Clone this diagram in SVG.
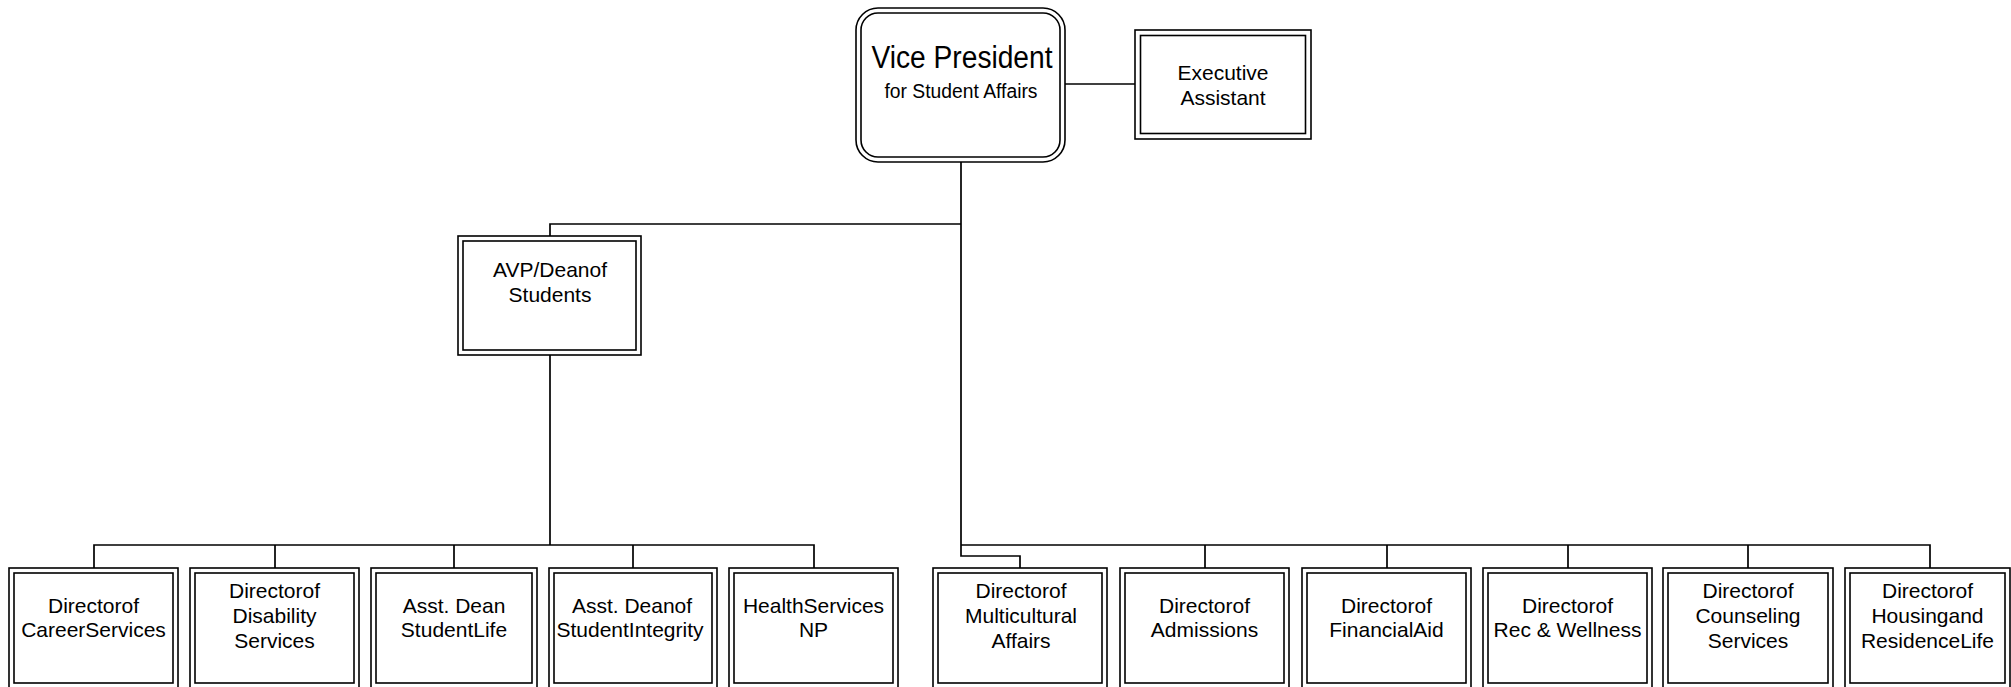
<svg xmlns="http://www.w3.org/2000/svg" width="2011" height="687" viewBox="0 0 2011 687">
<style>
.o{fill:#fff;stroke:#000;stroke-width:1.6}
.i{fill:none;stroke:#000;stroke-width:1.6}
.t{font-family:"Liberation Sans",Arial,sans-serif;font-size:21px;fill:#000;text-anchor:middle}
.c{fill:none;stroke:#000;stroke-width:1.7}
</style>
<rect width="2011" height="687" fill="#fff"/>
<g id="connectors">
<path class="c" d="M1065 84H1135"/>
<path class="c" d="M961 162V556H1020V568"/>
<path class="c" d="M961 224H550V236"/>
<path class="c" d="M550 355V545"/>
<path class="c" d="M94 568V545H814V568M275 545V568M454 545V568M633 545V568"/>
<path class="c" d="M961 545H1930V568M1205 545V568M1387 545V568M1568 545V568M1748 545V568"/>
</g>
<g id="vp">
<rect class="o" x="856" y="8" width="209" height="154" rx="22"/>
<rect class="i" x="861" y="13" width="199" height="144" rx="17"/>
<text class="t" x="962" y="68" style="font-size:31px" textLength="181" lengthAdjust="spacingAndGlyphs">Vice President</text>
<text class="t" x="961" y="98" style="font-size:20px" textLength="153" lengthAdjust="spacingAndGlyphs">for Student Affairs</text>
</g>
<g id="ea">
<rect class="o" x="1135" y="30" width="176" height="109"/>
<rect class="i" x="1140.5" y="35.5" width="165" height="98"/>
<text class="t" x="1223" y="80">Executive</text>
<text class="t" x="1223" y="105">Assistant</text>
</g>
<g id="avp">
<rect class="o" x="458" y="236" width="183" height="119"/>
<rect class="i" x="463" y="241" width="173" height="109"/>
<text class="t" x="550" y="277">AVP/Deanof</text>
<text class="t" x="550" y="302">Students</text>
</g>
<g id="career">
<rect class="o" x="9" y="568" width="169" height="120"/>
<rect class="i" x="14" y="573" width="159" height="110"/>
<text class="t" x="93.5" y="613">Directorof</text>
<text class="t" x="93.5" y="637">CareerServices</text>
</g>
<g id="disability">
<rect class="o" x="190" y="568" width="169" height="120"/>
<rect class="i" x="195" y="573" width="159" height="110"/>
<text class="t" x="274.5" y="598">Directorof</text>
<text class="t" x="274.5" y="623">Disability</text>
<text class="t" x="274.5" y="648">Services</text>
</g>
<g id="studentlife">
<rect class="o" x="371" y="568" width="166" height="120"/>
<rect class="i" x="376" y="573" width="156" height="110"/>
<text class="t" x="454" y="613">Asst. Dean</text>
<text class="t" x="454" y="637">StudentLife</text>
</g>
<g id="integrity">
<rect class="o" x="549" y="568" width="168" height="120"/>
<rect class="i" x="554" y="573" width="158" height="110"/>
<text class="t" x="632" y="613">Asst. Deanof</text>
<text class="t" x="630" y="637">StudentIntegrity</text>
</g>
<g id="health">
<rect class="o" x="729" y="568" width="169" height="120"/>
<rect class="i" x="734" y="573" width="159" height="110"/>
<text class="t" x="813.5" y="613">HealthServices</text>
<text class="t" x="813.5" y="637">NP</text>
</g>
<g id="multicultural">
<rect class="o" x="933" y="568" width="174" height="120"/>
<rect class="i" x="938" y="573" width="164" height="110"/>
<text class="t" x="1021" y="598">Directorof</text>
<text class="t" x="1021" y="623">Multicultural</text>
<text class="t" x="1021" y="648">Affairs</text>
</g>
<g id="admissions">
<rect class="o" x="1120" y="568" width="169" height="120"/>
<rect class="i" x="1125" y="573" width="159" height="110"/>
<text class="t" x="1204.5" y="613">Directorof</text>
<text class="t" x="1204.5" y="637">Admissions</text>
</g>
<g id="finaid">
<rect class="o" x="1302" y="568" width="169" height="120"/>
<rect class="i" x="1307" y="573" width="159" height="110"/>
<text class="t" x="1386.5" y="613">Directorof</text>
<text class="t" x="1386.5" y="637">FinancialAid</text>
</g>
<g id="rec">
<rect class="o" x="1483" y="568" width="169" height="120"/>
<rect class="i" x="1488" y="573" width="159" height="110"/>
<text class="t" x="1567.5" y="613">Directorof</text>
<text class="t" x="1567.5" y="637">Rec &amp; Wellness</text>
</g>
<g id="counseling">
<rect class="o" x="1663" y="568" width="170" height="120"/>
<rect class="i" x="1668" y="573" width="160" height="110"/>
<text class="t" x="1748" y="598">Directorof</text>
<text class="t" x="1748" y="623">Counseling</text>
<text class="t" x="1748" y="648">Services</text>
</g>
<g id="housing">
<rect class="o" x="1845" y="568" width="165" height="120"/>
<rect class="i" x="1850" y="573" width="155" height="110"/>
<text class="t" x="1927.5" y="598">Directorof</text>
<text class="t" x="1927.5" y="623">Housingand</text>
<text class="t" x="1927.5" y="648">ResidenceLife</text>
</g>
</svg>
